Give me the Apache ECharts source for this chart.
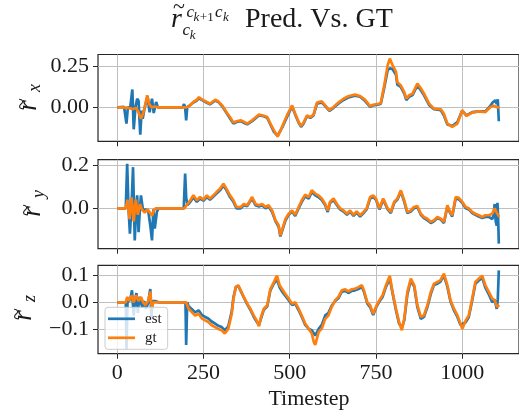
<!DOCTYPE html>
<html>
<head>
<meta charset="utf-8">
<script src="https://cdn.jsdelivr.net/npm/echarts@6/dist/echarts.min.js"></script>
<style>html,body{margin:0;padding:0;background:#fff}#c{width:519px;height:411px}</style>
</head>
<body>
<div id="c"></div>
<script>
// ---- data: [timestep, value] pairs ----
const X_TICKS = [0, 250, 500, 750, 1000];
const RX_TICKS = [0, 0.25];
const RY_TICKS = [0, 0.2];
const RZ_TICKS = [-0.1, 0, 0.1];
const SERIES_NAMES = ['est', 'gt'];

const rx_gt = [[0,0],[20,0],[35,-0.005],[45,-0.01],[55,-0.005],[62,-0.03],[69,-0.07],[75,-0.04],[82,0.02],[87,0.074],[93,0.02],[100,0],[110,0.005],[120,0],[200,0],[208,0.005],[221,0.033],[230,0.045],[237,0.062],[250,0.043],[260,0.033],[269,0.022],[284,0.047],[293,0.037],[305,0.01],[317,-0.03],[327,-0.06],[337,-0.094],[346,-0.086],[358,-0.08],[367,-0.088],[377,-0.10],[391,-0.08],[411,-0.045],[425,-0.052],[435,-0.06],[444,-0.10],[454,-0.14],[465,-0.18],[478,-0.12],[492,-0.05],[507,0.012],[516,-0.04],[526,-0.09],[533,-0.115],[540,-0.095],[550,-0.05],[560,-0.06],[569,-0.045],[579,0.029],[593,0.037],[603,0.012],[615,-0.018],[627,0.002],[641,0.029],[656,0.053],[670,0.068],[689,0.078],[704,0.07],[718,0.047],[733,0.008],[742,0.016],[758,0.022],[764,0.027],[774,0.135],[784,0.26],[790,0.30],[798,0.26],[808,0.22],[812,0.155],[822,0.135],[832,0.094],[838,0.053],[846,0.074],[856,0.084],[870,0.146],[880,0.117],[889,0.086],[904,0.023],[918,-0.008],[938,-0.012],[947,-0.04],[957,-0.10],[971,-0.12],[986,-0.10],[1000,-0.018],[1012,-0.053],[1029,-0.033],[1048,-0.025],[1067,-0.029],[1082,0.002],[1091,0.01],[1101,0.0],[1108,0.0]];
const rx_est = [[0,0],[20,0.003],[27,-0.10],[31,0.0],[38,0.0],[44,0.11],[48,-0.135],[53,0.0],[58,0.053],[62,0.04],[67,-0.168],[71,-0.02],[74,-0.07],[80,0.0],[88,0.068],[94,-0.03],[101,0.053],[106,-0.035],[113,0.033],[118,0],[190,0],[194,0.02],[197,0],[200,-0.08],[203,0],[208,0.005],[221,0.03],[230,0.04],[237,0.055],[250,0.04],[260,0.028],[269,0.018],[284,0.042],[293,0.033],[305,0.005],[317,-0.035],[327,-0.068],[337,-0.10],[346,-0.09],[358,-0.085],[367,-0.095],[377,-0.105],[391,-0.085],[411,-0.05],[425,-0.055],[435,-0.065],[444,-0.105],[454,-0.15],[465,-0.175],[478,-0.125],[492,-0.06],[507,0.005],[516,-0.045],[526,-0.095],[533,-0.12],[540,-0.10],[550,-0.055],[560,-0.065],[569,-0.05],[579,0.022],[593,0.03],[603,0.008],[615,-0.022],[627,-0.003],[641,0.022],[656,0.045],[670,0.06],[689,0.072],[704,0.065],[718,0.04],[733,0.003],[742,0.012],[758,0.018],[764,0.022],[774,0.12],[784,0.23],[790,0.24],[798,0.235],[808,0.2],[812,0.14],[822,0.125],[832,0.085],[838,0.045],[846,0.065],[856,0.075],[870,0.135],[880,0.105],[889,0.075],[904,0.015],[918,-0.012],[938,-0.018],[947,-0.05],[957,-0.105],[971,-0.115],[986,-0.09],[1000,-0.02],[1012,-0.05],[1029,-0.03],[1048,-0.025],[1067,-0.025],[1082,0.01],[1088,0.03],[1091,0.02],[1096,0.043],[1100,0.02],[1103,0.05],[1106,-0.086]];

const ry_gt = [[0,0],[25,0],[30,0.04],[36,-0.05],[42,0.05],[48,-0.06],[54,0.04],[60,-0.03],[66,0.02],[72,-0.005],[80,-0.02],[88,-0.005],[95,-0.02],[101,-0.035],[106,-0.01],[112,0],[195,0],[204,0.02],[212,0.037],[221,0.06],[231,0.037],[240,0.052],[250,0.04],[260,0.06],[269,0.045],[279,0.06],[288,0.075],[298,0.09],[308,0.114],[317,0.09],[327,0.06],[337,0.037],[346,0.006],[358,0.006],[367,0.02],[377,0.014],[391,0.052],[401,0.02],[411,0.014],[420,0.02],[430,0.006],[439,0.014],[449,-0.01],[459,-0.055],[468,-0.078],[473,-0.125],[478,-0.10],[488,-0.048],[497,-0.025],[507,-0.01],[516,-0.03],[526,0.006],[535,0.037],[545,0.063],[555,0.052],[564,0.083],[574,0.068],[583,0.06],[593,0.045],[603,0.02],[610,-0.01],[617,0.03],[627,0.045],[637,0.02],[646,0.0],[656,-0.01],[666,-0.025],[675,-0.01],[685,-0.03],[694,-0.014],[704,-0.032],[714,-0.017],[723,0.0],[733,0.052],[742,0.06],[750,0.045],[760,0.0],[771,0.045],[784,0.0],[793,-0.017],[803,0.03],[812,0.045],[822,0.083],[832,0.037],[841,-0.017],[851,-0.01],[860,0.006],[870,0.01],[880,-0.025],[889,-0.04],[899,-0.048],[909,-0.063],[918,-0.055],[928,-0.04],[938,-0.048],[947,-0.063],[957,0.014],[963,-0.01],[971,-0.032],[981,0.052],[990,0.048],[1000,0.03],[1010,0.006],[1019,0.0],[1029,-0.017],[1038,-0.025],[1048,-0.032],[1058,-0.04],[1067,-0.032],[1077,-0.032],[1087,-0.025],[1094,0.0],[1100,-0.02],[1107,-0.04]];
const ry_est = [[0,0],[25,0],[29,0.206],[33,0.0],[37,-0.117],[42,0.02],[46,0.19],[51,-0.148],[55,0.0],[58,0.06],[62,-0.11],[66,0.0],[69,0.06],[75,-0.01],[82,-0.005],[90,-0.01],[96,-0.078],[101,-0.148],[105,-0.005],[109,-0.094],[115,-0.017],[120,0],[193,0],[197,0.16],[200,0.05],[204,0.015],[212,0.03],[221,0.05],[231,0.03],[240,0.045],[250,0.035],[260,0.052],[269,0.04],[279,0.055],[288,0.068],[298,0.083],[308,0.105],[317,0.083],[327,0.052],[337,0.03],[346,0.0],[358,0.0],[367,0.014],[377,0.01],[391,0.045],[401,0.014],[411,0.008],[420,0.014],[430,0.0],[439,0.008],[449,-0.017],[459,-0.06],[468,-0.085],[473,-0.13],[478,-0.105],[488,-0.055],[497,-0.03],[507,-0.015],[516,-0.035],[526,0.0],[535,0.03],[545,0.055],[555,0.045],[564,0.075],[574,0.06],[583,0.052],[593,0.038],[603,0.014],[610,-0.017],[617,0.025],[627,0.038],[637,0.014],[646,-0.005],[656,-0.015],[666,-0.03],[675,-0.015],[685,-0.035],[694,-0.02],[704,-0.038],[714,-0.022],[723,-0.005],[733,0.045],[742,0.052],[750,0.04],[760,-0.005],[771,0.04],[784,-0.005],[793,-0.022],[803,0.025],[812,0.04],[822,0.078],[832,0.03],[841,-0.022],[851,-0.015],[860,0.0],[870,0.005],[880,-0.03],[889,-0.045],[899,-0.055],[909,-0.068],[918,-0.06],[928,-0.045],[938,-0.052],[947,-0.068],[957,0.008],[963,-0.015],[971,-0.038],[981,0.045],[990,0.042],[1000,0.025],[1010,0.0],[1019,-0.005],[1029,-0.022],[1038,-0.03],[1048,-0.038],[1058,-0.045],[1067,-0.04],[1077,-0.04],[1087,-0.05],[1091,-0.03],[1094,0.02],[1097,-0.06],[1100,-0.08],[1102,0.025],[1104,-0.04],[1106,-0.163]];

const rz_gt = [[0,0],[25,0],[29,0.02],[35,0.005],[43,0.026],[48,0.0],[55,0.026],[62,0.005],[69,0.02],[75,0.0],[82,-0.01],[90,0.005],[96,0.04],[100,-0.02],[105,0.0],[200,0],[207,-0.024],[216,-0.036],[226,-0.05],[236,-0.043],[245,-0.06],[255,-0.068],[264,-0.074],[274,-0.086],[284,-0.093],[293,-0.1],[303,-0.105],[312,-0.117],[322,-0.1],[332,-0.043],[337,0.014],[344,0.057],[351,0.064],[358,0.045],[367,0.02],[377,-0.005],[386,-0.024],[396,-0.05],[404,-0.068],[411,-0.09],[417,-0.055],[425,-0.024],[435,-0.011],[444,0.05],[454,0.076],[463,0.1],[471,0.064],[478,0.05],[487,0.032],[497,0.014],[507,-0.005],[516,0.0],[526,-0.024],[535,-0.05],[545,-0.08],[555,-0.099],[564,-0.117],[570,-0.15],[574,-0.16],[584,-0.111],[593,-0.099],[603,-0.062],[612,-0.05],[622,-0.017],[632,0.008],[641,0.02],[651,0.045],[661,0.049],[670,0.041],[680,0.049],[689,0.051],[699,0.057],[709,0.064],[715,0.045],[725,0.0],[733,-0.011],[742,-0.043],[752,-0.011],[760,0.008],[769,0.026],[779,0.064],[790,0.1],[798,0.039],[808,-0.024],[817,-0.074],[825,-0.105],[832,-0.061],[841,0.039],[851,0.089],[861,0.064],[870,-0.011],[880,-0.055],[889,-0.049],[899,-0.011],[909,0.039],[918,0.07],[928,0.076],[937,0.083],[947,0.108],[957,0.064],[966,0.008],[976,-0.024],[986,-0.049],[995,-0.08],[1000,-0.1],[1010,-0.068],[1019,-0.049],[1029,0.014],[1038,0.076],[1048,0.089],[1058,0.1],[1067,0.064],[1077,0.039],[1087,0.014],[1094,0.008],[1101,-0.018],[1107,-0.01]];
const rz_est = [[0,0],[25,0],[27,-0.175],[30,0.0],[38,0.01],[43,0.045],[48,-0.05],[52,0.01],[56,0.035],[60,-0.04],[64,0.02],[69,0.015],[73,-0.02],[78,0.005],[84,-0.025],[90,0.0],[96,0.05],[99,-0.06],[103,0.005],[110,0.005],[115,0.005],[120,0],[198,0],[200,-0.16],[203,0],[207,-0.015],[216,-0.025],[226,-0.038],[236,-0.03],[245,-0.047],[255,-0.055],[264,-0.061],[274,-0.072],[284,-0.08],[293,-0.088],[303,-0.093],[312,-0.105],[322,-0.09],[332,-0.035],[337,0.018],[344,0.058],[351,0.062],[358,0.043],[367,0.018],[377,-0.008],[386,-0.028],[396,-0.055],[404,-0.072],[411,-0.085],[417,-0.06],[425,-0.028],[435,-0.015],[444,0.045],[454,0.07],[463,0.087],[471,0.055],[478,0.04],[487,0.025],[497,0.008],[507,-0.01],[516,-0.005],[526,-0.03],[535,-0.055],[545,-0.085],[555,-0.1],[564,-0.105],[574,-0.125],[584,-0.1],[593,-0.085],[603,-0.049],[612,-0.04],[622,-0.012],[632,0.005],[641,0.015],[651,0.04],[661,0.043],[670,0.035],[680,0.043],[689,0.045],[699,0.05],[709,0.058],[715,0.04],[725,-0.005],[733,-0.018],[742,-0.048],[752,-0.015],[760,0.003],[769,0.02],[779,0.058],[790,0.09],[798,0.035],[808,-0.03],[817,-0.08],[825,-0.095],[832,-0.068],[841,0.03],[851,0.082],[861,0.058],[870,-0.018],[880,-0.062],[889,-0.055],[899,-0.018],[909,0.032],[918,0.065],[928,0.07],[937,0.078],[947,0.1],[957,0.058],[966,0.003],[976,-0.03],[986,-0.055],[995,-0.085],[1000,-0.09],[1010,-0.075],[1019,-0.055],[1029,0.008],[1038,0.07],[1048,0.082],[1058,0.092],[1067,0.055],[1077,0.03],[1087,0.0],[1094,0.01],[1100,-0.025],[1103,0.01],[1106,0.12]];

// ---- layout / style ----
const FONT = '"Liberation Serif", "DejaVu Serif", serif';
const BLUE = '#1f77b4', ORANGE = '#ff7f0e';
const TXT = '#1a1a1a';
const panels = [
  {top: 54.5, height: 86.8, min: -0.209, max: 0.325, ticks: RX_TICKS, dec: 2, est: rx_est, gt: rx_gt, sub: 'x', bx: 38, cy: 97},
  {top: 159.7, height: 89, min: -0.1866, max: 0.2245, ticks: RY_TICKS, dec: 1, est: ry_est, gt: ry_gt, sub: 'y', bx: 42, cy: 203},
  {top: 265.3, height: 88.4, min: -0.193, max: 0.139, ticks: RZ_TICKS, dec: 1, est: rz_est, gt: rz_gt, sub: 'z', bx: 33, cy: 307}
];

const grid = [], xAxis = [], yAxis = [], series = [];
panels.forEach((p, i) => {
  grid.push({left: 98, top: p.top, width: 423, height: p.height, show: true,
    borderColor: '#262626', borderWidth: 1.2, backgroundColor: 'transparent'});
  xAxis.push({type: 'value', gridIndex: i, min: -55.5, max: 1164.5,
    axisLine: {show: false, onZero: false},
    axisTick: {show: true, length: 5, customValues: X_TICKS, lineStyle: {color: '#262626', width: 1}},
    splitLine: {show: true, lineStyle: {color: '#bfbfbf', width: 1}},
    axisLabel: {show: i === 2, customValues: X_TICKS, margin: 9, fontFamily: FONT, fontSize: 22, color: TXT,
      formatter: v => String(Math.round(v))}
  });
  yAxis.push({type: 'value', gridIndex: i, min: p.min, max: p.max,
    axisLine: {show: false, onZero: false},
    axisTick: {show: true, length: 5, customValues: p.ticks, lineStyle: {color: '#262626', width: 1}},
    splitLine: {show: true, lineStyle: {color: '#bfbfbf', width: 1}},
    axisLabel: {show: true, customValues: p.ticks, margin: 9, fontFamily: FONT, fontSize: 22, color: TXT,
      formatter: v => { const s = Math.abs(v).toFixed(p.dec); return (v < -1e-9 ? '\u2212' : '') + s; }}
  });
  series.push({name: 'est', type: 'line', xAxisIndex: i, yAxisIndex: i, data: p.est,
    symbol: 'none', lineStyle: {color: BLUE, width: 2.7}, itemStyle: {color: BLUE}, z: 2});
  series.push({name: 'gt', type: 'line', xAxisIndex: i, yAxisIndex: i, data: p.gt,
    symbol: 'none', lineStyle: {color: ORANGE, width: 2.7}, itemStyle: {color: ORANGE}, z: 3});
});

// text helpers: place by baseline
function t(text, x, base, size, italic, extra) {
  return Object.assign({type: 'text', x: x, y: base - 0.34 * size,
    style: {text: text, font: (italic ? 'italic ' : '') + size + 'px ' + FONT, fill: TXT,
      align: 'left', verticalAlign: 'middle'}}, extra || {});
}
function tc(text, x, y, size) {
  return {type: 'text', x: x, y: y, style: {text: text, font: size + 'px ' + FONT, fill: TXT, align: 'center', verticalAlign: 'middle'}};
}

const graphic = [
  // title: r~ ^{c_{k+1} c_k}_{c_k} Pred. Vs. GT
  t('r', 171, 29, 28, true),
  tc('~', 179, 7.5, 22),
  t('c', 186.5, 18, 17, true),
  t('k', 193.5, 22, 13, true),
  t('+1', 199.8, 22, 13, false),
  t('c', 215, 18, 17, true),
  t('k', 223, 22, 13, true),
  t('c', 182.5, 36, 17, true),
  t('k', 189.8, 40, 13, true),
  t('Pred. Vs. GT', 245, 29, 28, false),
  // x axis name
  tc('Timestep', 309, 399, 22)
];
panels.forEach(p => {
  graphic.push({type: 'group', x: p.bx, y: p.cy, rotation: Math.PI / 2, children: [
    t('r', -14, 0, 28, true),
    tc('~', -7, -16, 22),
    t(p.sub, 5, 3, 18, true)
  ]});
});

const LINE_ICON = 'path://M0,0 L27,0 L27,2.7 L0,2.7 Z';
const chart = echarts.init(document.getElementById('c'), null, {renderer: 'canvas'});
chart.setOption({
  animation: false,
  backgroundColor: '#fff',
  grid, xAxis, yAxis, series, graphic,
  legend: {data: SERIES_NAMES.map(n => ({name: n, icon: LINE_ICON})), orient: 'vertical', left: 105, top: 307.3,
    itemWidth: 27, itemHeight: 14, itemGap: 4, padding: [4, 6, 4, 3], symbolKeepAspect: true,
    backgroundColor: 'rgba(255,255,255,0.8)', borderColor: '#cccccc', borderWidth: 1, borderRadius: 3,
    textStyle: {fontFamily: FONT, fontSize: 15, color: TXT, lineHeight: 14, padding: [0, 0, 0, 5]},
    z: 10}
});
</script>
</body>
</html>
